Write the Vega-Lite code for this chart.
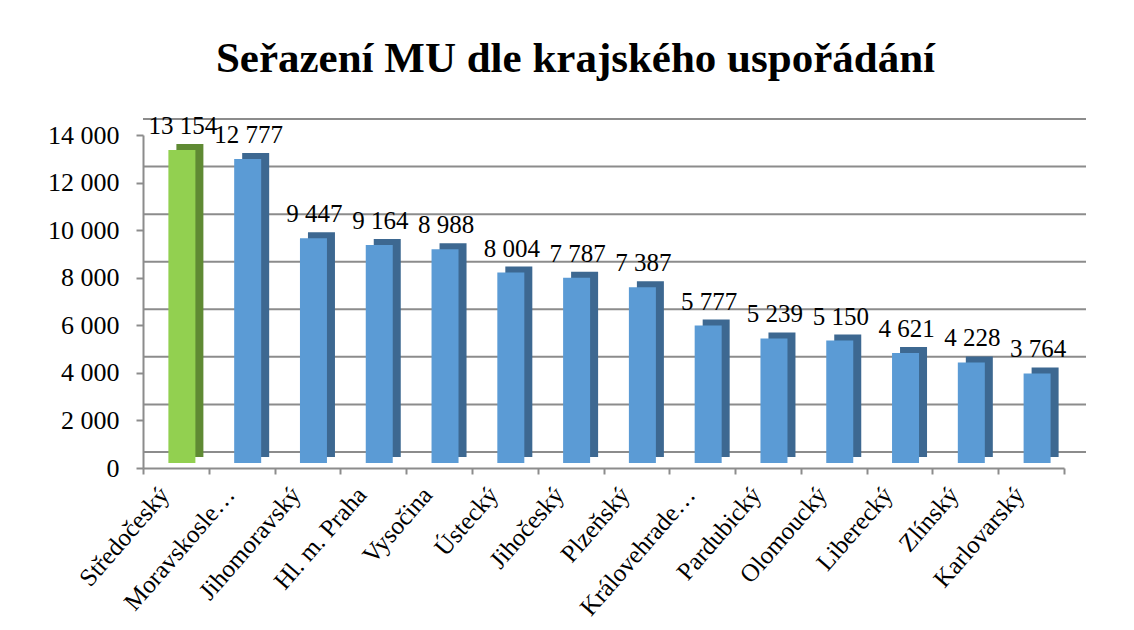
{
  "$schema": "https://vega.github.io/schema/vega-lite/v6.json",
  "autosize": {"type": "none"},
  "padding": {"left": 143, "top": 135, "right": 70, "bottom": 162},
  "width": 921,
  "height": 333,
  "background": "white",
  "config": {
    "locale": {"number": {"decimal": ",", "thousands": " ", "grouping": [3], "currency": ["", " Kč"]}},
    "view": {"stroke": null},
    "font": "Liberation Serif"
  },
  "title": {
    "text": "Seřazení MU dle krajského uspořádání",
    "font": "Liberation Serif",
    "fontSize": 43,
    "fontWeight": "bold",
    "color": "black",
    "frame": "group",
    "anchor": "middle",
    "baseline": "alphabetic",
    "offset": -1,
    "dx": -28
  },
  "datasets": {
    "kraje": [
      {"kraj": "Středočeský", "pocet": 13154},
      {"kraj": "Moravskoslezský", "pocet": 12777},
      {"kraj": "Jihomoravský", "pocet": 9447},
      {"kraj": "Hl. m. Praha", "pocet": 9164},
      {"kraj": "Vysočina", "pocet": 8988},
      {"kraj": "Ústecký", "pocet": 8004},
      {"kraj": "Jihočeský", "pocet": 7787},
      {"kraj": "Plzeňský", "pocet": 7387},
      {"kraj": "Královehradecký", "pocet": 5777},
      {"kraj": "Pardubický", "pocet": 5239},
      {"kraj": "Olomoucký", "pocet": 5150},
      {"kraj": "Liberecký", "pocet": 4621},
      {"kraj": "Zlínský", "pocet": 4228},
      {"kraj": "Karlovarský", "pocet": 3764}
    ],
    "mrizka": [
      {"pocet": 0}, {"pocet": 2000}, {"pocet": 4000}, {"pocet": 6000}, {"pocet": 8000}, {"pocet": 10000}, {"pocet": 12000}, {"pocet": 14000}
    ]
  },
  "encoding": {
    "y": {
      "field": "pocet", "type": "quantitative",
      "scale": {"domain": [0, 14000]},
      "axis": {
        "title": null,
        "values": [0, 2000, 4000, 6000, 8000, 10000, 12000, 14000],
        "format": ",.0f",
        "grid": false,
        "labelFont": "Liberation Serif",
        "labelFontSize": 26,
        "labelColor": "black",
        "labelPadding": 17,
        "tickColor": "#8c8c8c",
        "tickWidth": 2,
        "tickSize": 7,
        "domainColor": "#8c8c8c",
        "domainWidth": 2
      }
    }
  },
  "layer": [
    {
      "data": {"name": "mrizka"},
      "mark": {"type": "rule", "color": "#8c8c8c", "strokeWidth": 2, "xOffset": 22, "yOffset": -16},
      "encoding": {}
    },
    {
      "data": {"name": "kraje"},
      "layer": [
        {
          "mark": {"type": "bar", "width": 27, "xOffset": 14, "yOffset": -11, "y2Offset": -10},
          "encoding": {
            "color": {"condition": {"test": "datum.kraj === 'Středočeský'", "value": "#5f8a33"}, "value": "#3d6891"}
          }
        },
        {
          "mark": {"type": "bar", "width": 27, "xOffset": 6, "yOffset": -5, "y2Offset": -4},
          "encoding": {
            "color": {"condition": {"test": "datum.kraj === 'Středočeský'", "value": "#92d050"}, "value": "#5b9bd5"}
          }
        },
        {
          "mark": {"type": "text", "font": "Liberation Serif", "fontSize": 25, "color": "black", "baseline": "alphabetic", "dx": 7, "dy": -21},
          "encoding": {
            "text": {"field": "pocet", "type": "quantitative", "format": ",.0f"}
          }
        }
      ],
      "encoding": {
        "x": {
          "field": "kraj", "type": "nominal", "sort": null,
          "scale": {"paddingInner": 0, "paddingOuter": 0},
          "axis": {
            "title": null,
            "labelAngle": -49,
            "labelFont": "Liberation Serif",
            "labelFontSize": 25,
            "labelColor": "black",
            "labelLimit": 163,
            "labelPadding": 16,
            "labelOffset": -12,
            "tickBand": "extent",
            "tickColor": "#8c8c8c",
            "tickWidth": 2,
            "tickSize": 6,
            "domainColor": "#8c8c8c",
            "domainWidth": 2
          }
        }
      }
    }
  ]
}
